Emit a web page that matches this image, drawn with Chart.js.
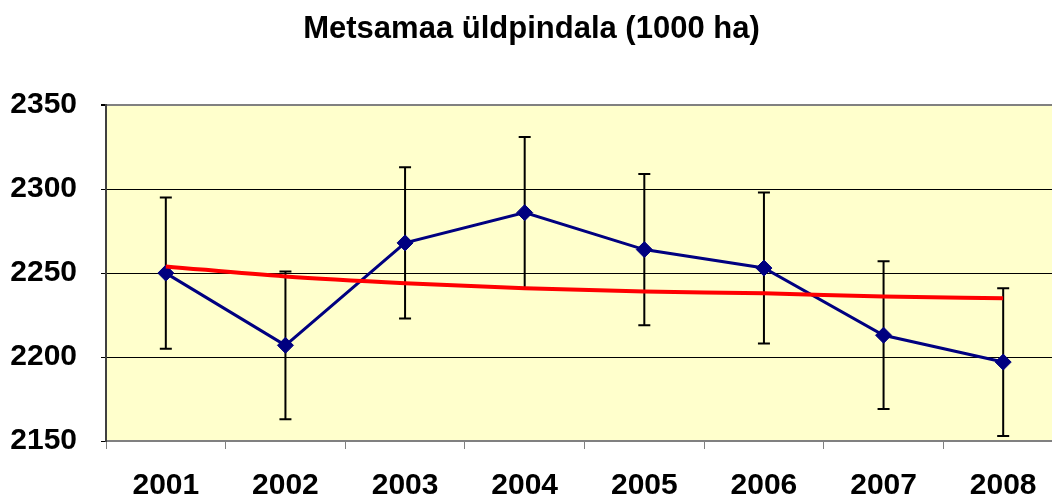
<!DOCTYPE html>
<html>
<head>
<meta charset="utf-8">
<script src="https://cdn.jsdelivr.net/npm/chart.js@4/dist/chart.umd.min.js"></script>
<style>
  html, body { margin: 0; padding: 0; background: #fff; overflow: hidden; }
  #wrap { width: 1052px; height: 499px; overflow: hidden; }
</style>
</head>
<body>
<div id="wrap"><canvas id="forestChart" width="1072" height="499"></canvas></div>
<script>
// values
const years = ['2001', '2002', '2003', '2004', '2005', '2006', '2007', '2008'];
const area = [2250, 2207, 2268, 2286, 2264, 2253, 2213, 2197];
const errors = [45, 44, 45, 45, 45, 45, 44, 44];
const trend = [2254, 2248, 2244, 2241, 2239, 2238, 2236, 2235];
const yTicks = [2150, 2200, 2250, 2300, 2350];

const labelFont = { family: '"Liberation Sans", Arial, sans-serif', size: 30, weight: 'bold' };

// yellow plot background
const plotBg = {
  id: 'plotBg',
  beforeDraw(chart) {
    const { ctx, chartArea: a } = chart;
    ctx.save();
    ctx.fillStyle = '#FFFFCC';
    ctx.fillRect(a.left, a.top, a.right - a.left, a.bottom - a.top);
    ctx.restore();
  }
};

// error bars for the area series
const errorBars = {
  id: 'errorBars',
  beforeDatasetsDraw(chart) {
    const { ctx, scales: { x, y } } = chart;
    ctx.save();
    ctx.strokeStyle = '#000';
    ctx.lineWidth = 2;
    area.forEach((v, i) => {
      const px = x.getPixelForValue(i);
      const top = y.getPixelForValue(v + errors[i]);
      const bot = y.getPixelForValue(v - errors[i]);
      ctx.beginPath();
      ctx.moveTo(px, top); ctx.lineTo(px, bot);
      ctx.moveTo(px - 6, top); ctx.lineTo(px + 6, top);
      ctx.moveTo(px - 6, bot); ctx.lineTo(px + 6, bot);
      ctx.stroke();
    });
    ctx.restore();
  }
};

const ctx = document.getElementById('forestChart').getContext('2d');
new Chart(ctx, {
  type: 'line',
  data: {
    labels: years,
    datasets: [{
      label: 'Trend',
      data: trend,
      borderColor: '#FF0000',
      borderWidth: 4,
      pointRadius: 0,
      cubicInterpolationMode: 'monotone',
      fill: false
    }, {
      label: 'Metsamaa üldpindala',
      data: area,
      borderColor: '#000080',
      backgroundColor: '#000080',
      borderWidth: 3,
      pointStyle: 'rectRot',
      pointRadius: 8,
      pointBorderWidth: 1,
      tension: 0,
      fill: false
    }]
  },
  options: {
    responsive: false,
    animation: false,
    layout: { padding: { left: 0, right: 9, top: 0, bottom: 0 } },
    plugins: {
      legend: { display: false },
      tooltip: { enabled: false },
      title: {
        display: true,
        text: 'Metsamaa üldpindala (1000 ha)',
        color: '#000',
        font: { family: '"Liberation Sans", Arial, sans-serif', size: 31, weight: 'bold' },
        padding: { top: 11, bottom: 57 }
      }
    },
    scales: {
      x: {
        offset: true,
        grid: { offset: true, drawOnChartArea: false, tickLength: 8, color: '#808080', lineWidth: 1 },
        border: { color: '#808080', width: 2 },
        ticks: { color: '#000', font: labelFont, padding: 19, maxRotation: 0 },
        afterFit(scale) { scale.height = 58; }
      },
      y: {
        min: 2150,
        max: 2350,
        afterBuildTicks(scale) { scale.ticks = yTicks.map(v => ({ value: v })); },
        grid: {
          color: c => (c.tick && (c.tick.value === 2350 || c.tick.value === 2150)) ? '#808080' : '#000',
          lineWidth: c => (c.tick && c.tick.value === 2350) ? 2 : 1,
          tickColor: '#000',
          tickLength: 5
        },
        border: { color: '#404040', width: 2 },
        ticks: { color: '#000', font: labelFont, padding: 24, callback: v => String(v) },
        afterFit(scale) { scale.width = 106; }
      }
    }
  },
  plugins: [plotBg, errorBars]
});
</script>
</body>
</html>
